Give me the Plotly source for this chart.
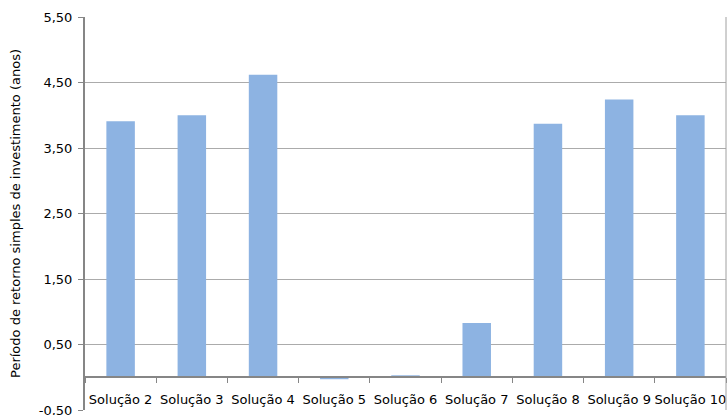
import plotly.graph_objects as go

# Payback period per solution
solucoes = ["Solução 2", "Solução 3", "Solução 4", "Solução 5", "Solução 6",
            "Solução 7", "Solução 8", "Solução 9", "Solução 10"]
periodo_anos = [3.91, 4.00, 4.62, -0.03, 0.03, 0.83, 3.87, 4.24, 4.00]

y_ticks = [-0.5, 0.5, 1.5, 2.5, 3.5, 4.5, 5.5]
y_min, y_max = -0.5, 5.5

# Portuguese number format: comma decimal, plain hyphen for negatives
y_tick_text = [f"{v:.2f}".replace(".", ",") for v in y_ticks]

fig = go.Figure(
    go.Bar(
        x=solucoes,
        y=periodo_anos,
        marker=dict(color="#8DB3E2", line=dict(width=0)),
        hoverinfo="x+y",
    )
)

font_family = "DejaVu Sans, sans-serif"

fig.update_layout(
    width=728,
    height=415,
    margin=dict(l=85, r=2, t=17, b=5),
    paper_bgcolor="white",
    plot_bgcolor="white",
    bargap=0.6,
    showlegend=False,
    font=dict(family=font_family, size=13, color="#000000"),
    xaxis=dict(
        type="category",
        anchor="free",
        position=(0 - y_min) / (y_max - y_min),
        automargin=False,
        showline=True,
        linecolor="#868686",
        linewidth=2,
        ticks="outside",
        tickson="boundaries",
        ticklen=5,
        tickcolor="#868686",
        tickangle=0,
        ticklabelstandoff=10,
        tickfont=dict(family=font_family, size=13),
        showgrid=False,
        zeroline=False,
    ),
    yaxis=dict(
        range=[y_min, y_max],
        automargin=False,
        tickvals=y_ticks,
        ticktext=y_tick_text,
        ticklabeloverflow="allow",
        showline=True,
        linecolor="#868686",
        linewidth=2,
        ticks="outside",
        ticklen=5,
        tickcolor="#868686",
        ticklabelstandoff=3,
        showgrid=True,
        gridcolor="#ABABAB",
        gridwidth=1,
        zeroline=False,
        tickfont=dict(family=font_family, size=13),
        title=dict(
            text="Período de retorno simples de investimento (anos)",
            font=dict(family=font_family, size=13),
            standoff=15,
        ),
    ),
    shapes=[
        dict(type="line", xref="paper", yref="paper", x0=1, x1=1, y0=0, y1=1,
             line=dict(color="#A0A0A0", width=1)),
    ],
)

fig.write_html("out.html")
